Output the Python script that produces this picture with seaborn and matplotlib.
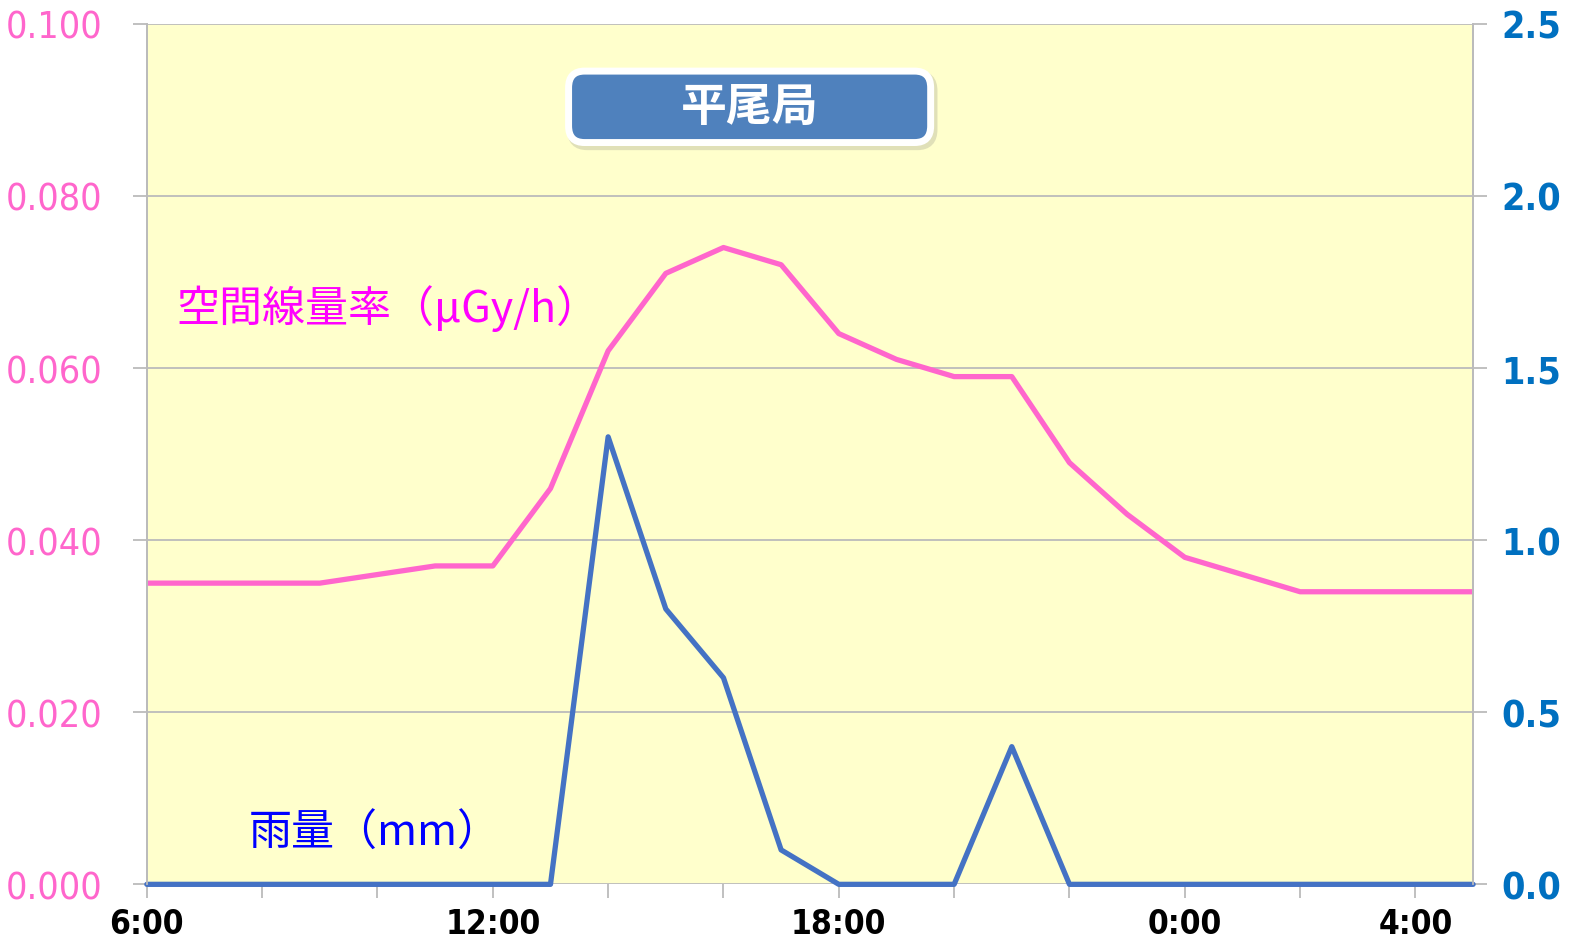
import matplotlib
matplotlib.use("Agg")
import matplotlib.pyplot as plt
import seaborn as sns
import pandas as pd
from matplotlib.patches import FancyBboxPatch

# データ（6:00から翌5:00まで1時間ごと）
hours = list(range(24))
dose_rate = [0.035, 0.035, 0.035, 0.035, 0.036, 0.037, 0.037, 0.046, 0.062, 0.071,
             0.074, 0.072, 0.064, 0.061, 0.059, 0.059, 0.049, 0.043, 0.038, 0.036,
             0.034, 0.034, 0.034, 0.034]
rain = [0, 0, 0, 0, 0, 0, 0, 0, 1.30, 0.80, 0.60, 0.10, 0, 0, 0, 0.40, 0, 0,
        0, 0, 0, 0, 0, 0]
tick_pos = [0, 2, 4, 6, 8, 10, 12, 14, 16, 18, 20, 22]
tick_labels = ["6:00", "", "", "12:00", "", "", "18:00", "", "", "0:00", "", "4:00"]
left_ticks = [0.0, 0.02, 0.04, 0.06, 0.08, 0.10]
right_ticks = [0.0, 0.5, 1.0, 1.5, 2.0, 2.5]

df = pd.DataFrame({"hour": hours, "dose": dose_rate, "rain": rain})

sns.set_theme(style="white")
plt.rcParams['font.family'] = ['DejaVu Sans']
plt.rcParams['font.stretch'] = 'condensed'
cjk = ['Noto Sans CJK JP', 'DejaVu Sans']

fig = plt.figure(figsize=(15.96, 9.53), dpi=100)
ax = fig.add_axes([0.092, 0.071, 0.831, 0.903])
ax.set_facecolor("#FFFFCC")
ax2 = ax.twinx()

sns.lineplot(data=df, x="hour", y="dose", ax=ax, color="#FF66CC", linewidth=3.8)
sns.lineplot(data=df, x="hour", y="rain", ax=ax2, color="#4472C4", linewidth=3.8)
# 0の線が軸で切れないように
for line in ax2.lines:
    line.set_clip_on(False)

ax.set_xlim(0, 23)
ax.set_ylim(0, 0.1)
ax2.set_ylim(0, 2.5)
ax.set_yticks(left_ticks)
ax.set_yticklabels([f"{v:.3f}" for v in left_ticks])
ax2.set_yticks(right_ticks)
ax2.set_yticklabels([f"{v:.1f}" for v in right_ticks])
ax.set_xticks(tick_pos)
ax.set_xticklabels(tick_labels)
ax.set_xlabel("")
ax.set_ylabel("")
ax2.set_ylabel("")

ax.grid(axis="y", color="#BBBBBB", linewidth=1.3)
ax.set_axisbelow(True)
for a in (ax, ax2):
    for s in a.spines.values():
        s.set_visible(False)
    a.spines["left"].set_visible(True)
    a.spines["right"].set_visible(True)
    a.spines["left"].set_color("#BBBBBB")
    a.spines["right"].set_color("#BBBBBB")
    a.spines["left"].set_linewidth(1.3)
    a.spines["right"].set_linewidth(1.3)

ax.tick_params(axis="y", colors="#BBBBBB", labelcolor="#FF66CC", labelsize=27,
               length=10, width=1.3, pad=22, left=True)
ax2.tick_params(axis="y", colors="#BBBBBB", labelcolor="#0070C0", labelsize=27,
                length=10, width=1.3, pad=10, right=True)
ax.tick_params(axis="x", colors="#BBBBBB", labelcolor="black", labelsize=24,
               length=10, width=1.3, pad=6, bottom=True)
for lab in ax.get_xticklabels():
    lab.set_fontweight("bold")
for lab in ax2.get_yticklabels():
    lab.set_fontweight("semibold")

ax.text(0.022, 0.67, "空間線量率（μGy/h）", transform=ax.transAxes, fontsize=31,
        color="#FF00FF", family=cjk, va="center")
ax.text(0.077, 0.06, "雨量（mm）", transform=ax.transAxes, fontsize=31,
        color="#0000FF", family=cjk, va="center")

# タイトルの枠（影つき）
shadow = FancyBboxPatch((0.320, 0.858), 0.273, 0.083, transform=ax.transAxes,
                        boxstyle="round,pad=0,rounding_size=0.012", facecolor="#E0E0B8",
                        edgecolor="#E0E0B8", linewidth=6, zorder=4, mutation_aspect=1.6)
ax.add_patch(shadow)
box = FancyBboxPatch((0.318, 0.862), 0.273, 0.083, transform=ax.transAxes,
                     boxstyle="round,pad=0,rounding_size=0.012", facecolor="#4F81BD",
                     edgecolor="white", linewidth=5, zorder=5, mutation_aspect=1.6)
ax.add_patch(box)
ax.text(0.4545, 0.903, "平尾局", transform=ax.transAxes, fontsize=33, color="white",
        fontweight="bold", family=cjk, ha="center", va="center", zorder=6)

fig.savefig("out.png", dpi=100)
